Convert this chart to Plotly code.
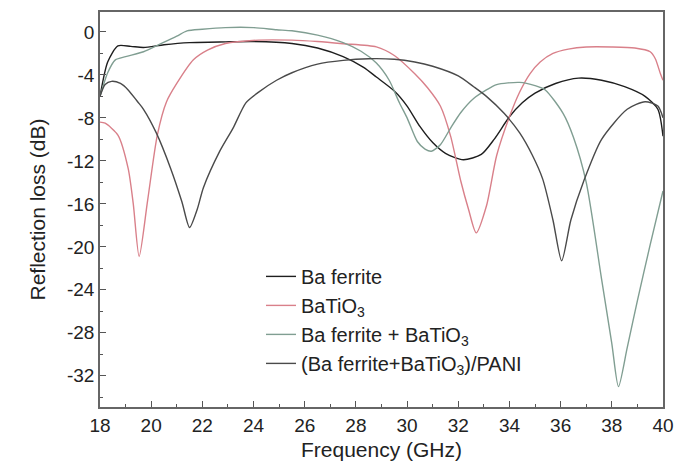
import plotly.graph_objects as go

# ---- data ----
names = ["Ba ferrite", "BaTiO<sub>3</sub>", "Ba ferrite + BaTiO<sub>3</sub>",
         "(Ba ferrite+BaTiO<sub>3</sub>)/PANI"]

x_ferrite = [18.0, 18.3, 18.7, 19.2, 19.7, 20.5, 21.5, 22.9, 24.0, 25.5, 26.5, 27.5, 28.3, 28.8,
             29.5, 30.0, 30.5, 31.0, 31.5, 32.2, 32.9, 33.4, 34.0, 34.5, 35.0, 35.8, 36.7, 37.6,
             38.5, 39.3, 39.8, 40.0]
y_ferrite = [-6.0, -2.8, -1.3, -1.35, -1.45, -1.2, -1.0, -0.93, -0.9, -1.08, -1.5, -2.3, -3.3, -4.2,
             -5.5, -6.9, -8.8, -10.3, -11.3, -11.9, -11.4, -10.0, -7.9, -6.6, -5.7, -4.8, -4.3, -4.5,
             -5.1, -6.0, -7.2, -9.7]

x_batio3 = [18.0, 18.2, 18.7, 19.1, 19.3, 19.53, 19.86, 20.24, 20.6, 21.0, 21.65, 22.2, 22.9, 24.2,
            25.5, 26.5, 27.5, 28.8, 29.5, 30.3, 30.8, 31.3, 31.7, 32.1, 32.4, 32.7, 33.1, 33.5, 34.0,
            34.4, 34.8, 35.2, 35.7, 36.3, 37.0, 38.0, 38.9, 39.5, 39.7, 39.9, 40.0]
y_batio3 = [-8.4, -8.5, -9.6, -12.7, -16.0, -20.9, -15.7, -9.6, -6.5, -4.8, -2.6, -1.7, -1.08, -0.77,
            -0.77, -0.9, -1.1, -1.4, -2.2, -3.9, -5.2, -6.9, -9.7, -13.9, -16.5, -18.7, -16.2, -11.5,
            -7.9, -5.6, -3.9, -2.8, -2.0, -1.6, -1.4, -1.4, -1.5, -1.85, -2.5, -3.9, -4.5]

x_mix = [18.0, 18.3, 18.6, 19.0, 19.7, 20.4, 21.0, 21.4, 22.0, 22.9, 24.0, 24.9, 25.5, 26.5, 27.5,
         28.2, 28.8, 29.3, 29.7, 30.0, 30.4, 30.7, 30.95, 31.3, 31.7, 32.1, 32.6, 33.1, 33.5, 34.4,
         35.0, 35.4, 36.1, 36.5, 37.0, 37.6, 38.0, 38.26, 38.6, 39.0, 39.5, 40.0]
y_mix = [-6.0, -3.8, -2.6, -2.3, -1.85, -1.08, -0.4, 0.1, 0.25, 0.4, 0.4, 0.2, 0.1, -0.3, -1.0,
         -1.8, -2.9, -4.5, -6.6, -8.0, -10.2, -10.9, -11.1, -10.5, -8.95, -7.5, -6.2, -5.4, -4.9, -4.7,
         -5.0, -5.4, -7.6, -9.8, -14.0, -23.0, -29.0, -33.0, -29.4, -25.0, -19.8, -14.8]

x_pani = [18.0, 18.2, 18.45, 18.8, 19.1, 19.47, 19.7, 20.2, 20.76, 21.2, 21.5, 21.8, 22.04, 22.68,
          23.2, 23.7, 24.2, 24.9, 25.5, 26.5, 27.5, 28.5, 29.5, 30.3, 31.0, 32.0, 32.6, 33.1, 33.8,
          34.4, 34.9, 35.3, 35.7, 36.04, 36.4, 36.9, 37.6, 38.6, 39.3, 39.8, 40.0]
y_pani = [-6.0, -4.9, -4.6, -4.8, -5.4, -6.5, -7.2, -9.4, -12.7, -15.8, -18.2, -16.5, -14.5, -11.1,
          -8.95, -6.6, -5.6, -4.5, -3.8, -3.0, -2.65, -2.5, -2.55, -2.8, -3.2, -4.1, -5.1, -6.0, -7.6,
          -9.4, -11.5, -13.7, -17.5, -21.3, -17.5, -13.9, -10.0, -7.2, -6.5, -6.9, -8.0]

x_ticks = [18, 20, 22, 24, 26, 28, 30, 32, 34, 36, 38, 40]
y_ticks = [0, -4, -8, -12, -16, -20, -24, -28, -32]
y_ticktext = ["0", "-4", "-8", "-12", "-16", "-20", "-24", "-28", "-32"]

colors = ["#1e1e1e", "#d9808a", "#809e92", "#4a4a4a"]

series = [(x_ferrite, y_ferrite), (x_batio3, y_batio3), (x_mix, y_mix), (x_pani, y_pani)]

fig = go.Figure()
for (xs, ys), nm, c in zip(series, names, colors):
    fig.add_trace(go.Scatter(x=xs, y=ys, mode="lines", name=nm,
                             line=dict(color=c, width=1.4, shape="spline", smoothing=0.7)))

font_family = "Liberation Sans, Arial, sans-serif"
fig.update_layout(
    width=684, height=473,
    margin=dict(l=100, r=12, t=10, b=66),
    paper_bgcolor="white", plot_bgcolor="white",
    font=dict(family=font_family, color="#222", size=19),
    showlegend=True,
    legend=dict(x=0.286, y=0.38, xanchor="left", yanchor="top",
                bgcolor="rgba(0,0,0,0)", font=dict(size=20, color="#222"),
                tracegroupgap=0),
    xaxis=dict(range=[18, 40], tickvals=x_ticks, ticks="inside", ticklen=6,
               tickcolor="#555", showline=True, linecolor="#666", linewidth=1.5,
               mirror=True, showgrid=False, zeroline=False,
               tickfont=dict(size=19),
               minor=dict(ticks="inside", ticklen=3, dtick=1, tickcolor="#555"),
               title=dict(text="Frequency (GHz)", font=dict(size=21), standoff=8)),
    yaxis=dict(range=[-34.9, 1.85], tickvals=y_ticks, ticktext=y_ticktext,
               ticks="inside", ticklen=6, tickcolor="#555",
               showline=True, linecolor="#666", linewidth=1.5, mirror=True,
               showgrid=False, zeroline=False, tickfont=dict(size=19),
               minor=dict(ticks="inside", ticklen=3, dtick=2, tickcolor="#555"),
               title=dict(text="Reflection loss (dB)", font=dict(size=21), standoff=16)),
)

fig.write_html("out.html", config={"displayModeBar": False},
               post_script="document.body.style.margin='0';document.body.style.overflow='hidden';")
